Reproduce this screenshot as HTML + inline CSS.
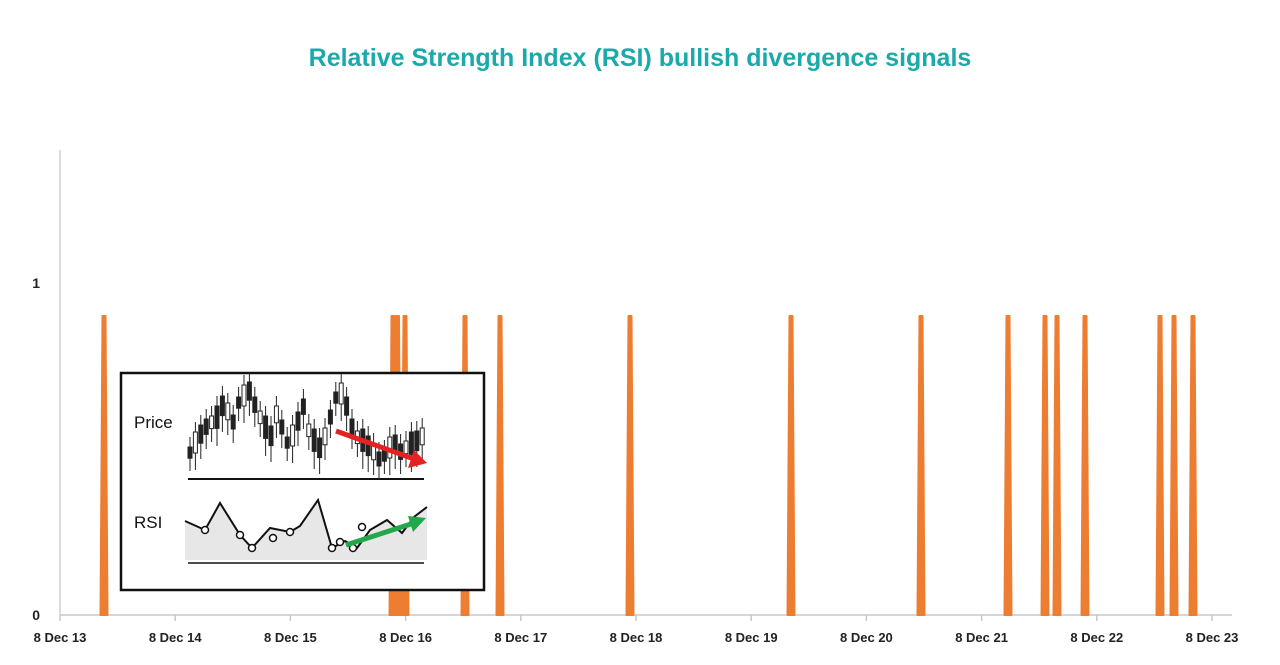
<!DOCTYPE html>
<html><head><meta charset="utf-8"><style>
body{margin:0;background:#fff;width:1280px;height:660px;overflow:hidden;font-family:"Liberation Sans",sans-serif}
</style></head><body>
<svg width="1280" height="660" xmlns="http://www.w3.org/2000/svg">
<text x="640" y="66" text-anchor="middle" font-size="25" font-weight="bold" fill="#1BA9A9" font-family="Liberation Sans, sans-serif">Relative Strength Index (RSI) bullish divergence signals</text>
<line x1="60" y1="150" x2="60" y2="615" stroke="#d0d0d0" stroke-width="1.5"/>
<line x1="60" y1="615" x2="1232" y2="615" stroke="#c8c8c8" stroke-width="1.5"/>
<text x="40" y="288" text-anchor="end" font-size="14" font-weight="bold" fill="#222">1</text>
<text x="40" y="620" text-anchor="end" font-size="14" font-weight="bold" fill="#222">0</text>
<g font-size="13" font-weight="bold" fill="#222" text-anchor="middle" id="xl"></g>
<g id="ticks" stroke="#c8c8c8" stroke-width="1.5"></g>
<g id="sp" fill="#ED7D31" stroke="#ED7D31" stroke-width="2" stroke-linejoin="round"></g>
<rect x="121" y="373" width="363" height="217" fill="#fff" stroke="#111" stroke-width="2.5"/>
<text x="134" y="428" font-size="17" fill="#111">Price</text>
<text x="134" y="528" font-size="17" fill="#111">RSI</text>
<line x1="188" y1="479" x2="424" y2="479" stroke="#111" stroke-width="2"/>
<line x1="188" y1="563" x2="424" y2="563" stroke="#111" stroke-width="1.5"/>
<g id="cd"></g>
<polygon points="185,521 205,530 220,503 240,535 252,548 270,528 290,532 300,526 318,500 332,548 345,541 357,548 370,530 387,520 402,533 414,517 427,507 427,560 185,560" fill="#ddd" opacity="0.7"/>
<polyline points="185,521 205,530 220,503 240,535 252,548 270,528 290,532 300,526 318,500 332,548 345,541 357,548 370,530 387,520 402,533 414,517 427,507" fill="none" stroke="#111" stroke-width="2"/>
<g fill="#fff" stroke="#111" stroke-width="1.5"><circle cx="205" cy="530" r="3.5"/><circle cx="240" cy="535" r="3.5"/><circle cx="252" cy="548" r="3.5"/><circle cx="273" cy="538" r="3.5"/><circle cx="290" cy="532" r="3.5"/><circle cx="332" cy="548" r="3.5"/><circle cx="340" cy="542" r="3.5"/><circle cx="353" cy="548" r="3.5"/><circle cx="362" cy="527" r="3.5"/></g>
<line x1="336" y1="431" x2="414" y2="459" stroke="#e52222" stroke-width="5"/>
<polygon points="427,463 408,468 414,450" fill="#e52222"/>
<line x1="346" y1="545" x2="414" y2="523" stroke="#22a84a" stroke-width="5"/>
<polygon points="426,518 413,532 408,516" fill="#22a84a"/>
</svg>
<script>
const ns="http://www.w3.org/2000/svg";
function el(p,t,a){const e=document.createElementNS(ns,t);for(const k in a)e.setAttribute(k,a[k]);p.appendChild(e);return e;}
const xl=document.getElementById('xl'),tk=document.getElementById('ticks');
for(let i=0;i<=10;i++){const x=60+i*115.2;el(tk,'line',{x1:x,y1:615,x2:x,y2:621});const t=el(xl,'text',{x:x,y:642});t.textContent='8 Dec '+(13+i);}
const sp=document.getElementById('sp');
[104,393,397.5,405,465,500,630,791,921,1008,1045,1057,1085,1160,1174,1193].forEach(c=>{
el(sp,'polygon',{points:`${c-3.5},615 ${c-1.5},316 ${c+1.5},316 ${c+3.5},615`});});
const cd=document.getElementById('cd');
const ys=[455,447,438,430,425,422,410,415,425,405,400,395,408,420,432,440,418,430,445,440,425,410,433,445,452,440,420,400,398,410,430,440,445,450,455,462,458,452,448,455,450,448,445,440];
for(let i=0;i<ys.length;i++){const x=190+i*5.4,y=ys[i],h=8+(i*7%9),dark=i%3!=1;
el(cd,'line',{x1:x,y1:y-h-10,x2:x,y2:y+h+8,stroke:'#222','stroke-width':1});
el(cd,'rect',{x:x-2,y:y-h,width:4,height:h*1.4,fill:dark?'#222':'#fff',stroke:'#222','stroke-width':1});}
</script>
</body></html>
